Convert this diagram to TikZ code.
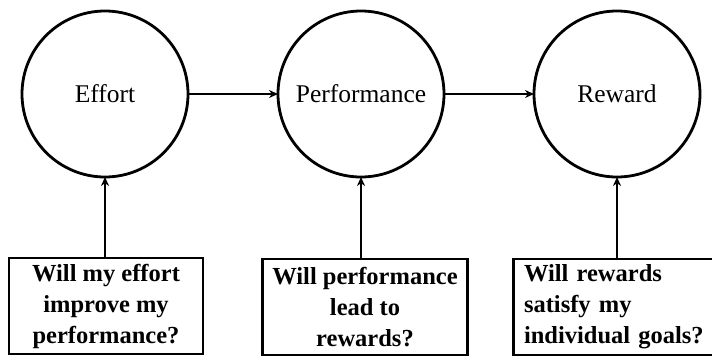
\documentclass[tikz,border=0pt]{standalone}
\usepackage{fontspec}
\setmainfont{Liberation Serif}
\usetikzlibrary{arrows.meta}
\begin{document}
\begin{tikzpicture}[x=1pt,y=-1pt,
  stage/.style={circle,draw,line width=2.8pt,minimum size=166pt,inner sep=0pt,outer sep=0pt,font=\fontsize{25.5}{30}\selectfont},
  qbox/.style={draw,line width=2.8pt,minimum height=96pt,inner sep=0pt,outer sep=0pt,font=\bfseries\fontsize{24.5}{31}\selectfont},
  arr/.style={line width=2.4pt,-{Stealth[length=9pt,width=8pt]}}]
\useasboundingbox (0,0) rectangle (712,362);
\fill[white] (0,0) rectangle (712,362);
\node[stage] (e) at (105,94) {Effort};
\node[stage] (p) at (361,94) {Performance};
\node[stage] (r) at (617,94) {Reward};
\node[qbox,minimum width=194pt,align=center] (q1) at (106,306) {Will my effort\\improve my\\performance?};
\node[qbox,minimum width=205pt,align=center] (q2) at (365,307) {Will performance\\lead to\\rewards?};
\node[qbox,minimum width=201pt,align=left,text width=180pt] (q3) at (614,307) {Will rewards\\satisfy my\\individual goals?};
\draw[arr] (e) -- (p);
\draw[arr] (p) -- (r);
\draw[arr] (q1.north -| e) -- (e.south);
\draw[arr] (q2.north -| p) -- (p.south);
\draw[arr] (q3.north -| r) -- (r.south);
\end{tikzpicture}
\end{document}
